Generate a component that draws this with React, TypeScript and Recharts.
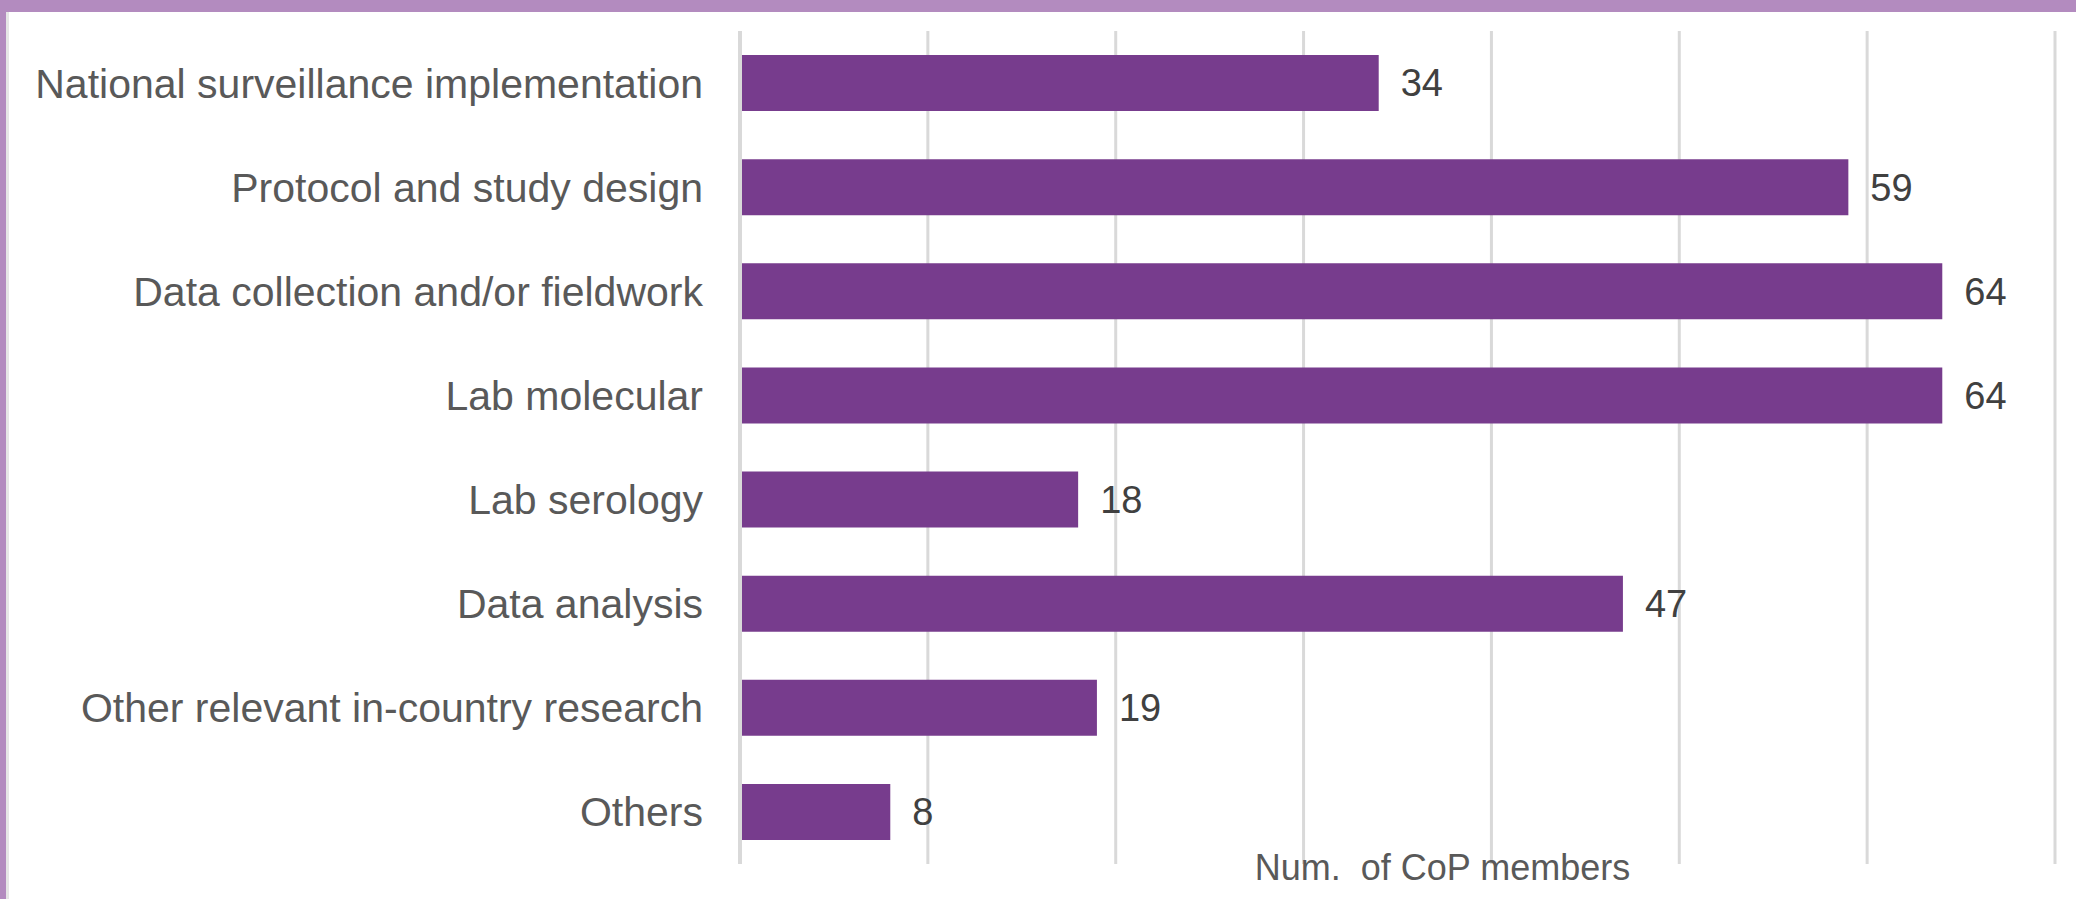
import React from "react";
import { BarChart, Bar, XAxis, YAxis, CartesianGrid, LabelList, Label } from "recharts";

const categories = [
  "National surveillance implementation",
  "Protocol and study design",
  "Data collection and/or fieldwork",
  "Lab molecular",
  "Lab serology",
  "Data analysis",
  "Other relevant in-country research",
  "Others",
];
const members = [34, 59, 64, 64, 18, 47, 19, 8];
const xTicks = [0, 10, 20, 30, 40, 50, 60, 70];
const xTitle = "Num.\u00a0 of CoP members";

const data = categories.map((name, i) => ({ name, value: members[i] }));

const FONT = "'Liberation Sans', Arial, sans-serif";

const EmptyTick = () => <g />;

export default function App() {
  return (
    <div
      style={{
        position: "absolute",
        left: 0,
        top: 0,
        width: 2076,
        height: 899,
        background: "#ffffff",
        overflow: "hidden",
        fontFamily: FONT,
      }}
    >
      <div style={{ position: "absolute", left: 0, top: 0, width: 2076, height: 12, background: "#b38bbf" }} />
      <div style={{ position: "absolute", left: 0, top: 0, width: 6, height: 899, background: "#b38bbf" }} />
      <div style={{ position: "absolute", left: 6, top: 12, width: 3, height: 887, background: "#e6e6e6" }} />
      <div style={{ position: "absolute", left: 0, top: 0 }}>
        <BarChart
          width={2076}
          height={899}
          data={data}
          layout="vertical"
          margin={{ top: 31, right: 21, bottom: 0, left: 0 }}
        >
          <CartesianGrid
            vertical={true}
            horizontal={false}
            stroke="#d9d9d9"
            strokeWidth={3}
          />
          <XAxis
            type="number"
            domain={[0, 70]}
            ticks={xTicks}
            tick={<EmptyTick />}
            tickLine={false}
            axisLine={false}
            height={35}
          >
            <Label
              value={xTitle}
              position="insideTop"
              dx={45}
              dy={-15}
              style={{ fontSize: 36, fill: "#595959", fontFamily: FONT }}
            />
          </XAxis>
          <YAxis
            type="category"
            dataKey="name"
            width={740}
            tickLine={false}
            tickSize={0}
            tickMargin={37}
            axisLine={{ stroke: "#d9d9d9", strokeWidth: 4 }}
            tick={{ fontSize: 41, fill: "#595959", fontFamily: FONT }}
            interval={0}
          />
          <Bar dataKey="value" fill="#773c8d" barSize={56} isAnimationActive={false}>
            <LabelList
              dataKey="value"
              position="right"
              offset={22}
              style={{ fontSize: 38, fill: "#404040", fontFamily: FONT }}
            />
          </Bar>
        </BarChart>
      </div>
    </div>
  );
}
